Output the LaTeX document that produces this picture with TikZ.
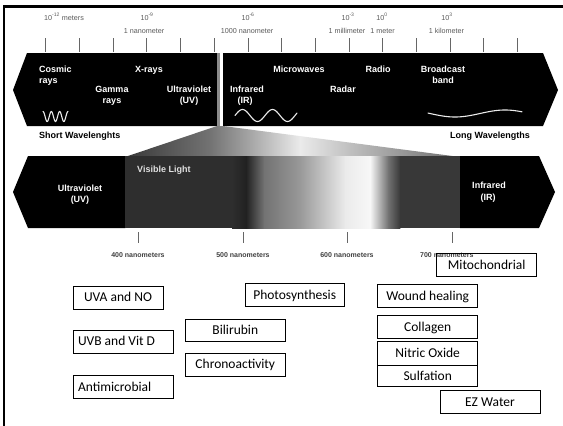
\documentclass[tikz,border=0pt]{standalone}
\usepackage{fontspec}
\setmainfont{Liberation Sans}
\newfontfamily\boxfont{Carlito}
\begin{document}
\begin{tikzpicture}[x=1pt,y=-1pt,
  bandtxt/.style={text=white,font=\fontsize{9}{10}\selectfont\bfseries,inner sep=0pt,anchor=base},
  scaletxt/.style={text=black!65,font=\fontsize{7.2}{8}\selectfont,inner sep=0pt,anchor=base},
  nmtxt/.style={text=black!75,font=\fontsize{7}{8}\selectfont\bfseries,inner sep=0pt,anchor=base},
  wavetxt/.style={text=black,font=\fontsize{9}{10}\selectfont\bfseries,inner sep=0pt,anchor=base west},
  wave/.style={white!92!black,line width=1.1pt,line cap=round},
  tickline/.style={black!60,line width=0.8pt},
  infobox/.style={draw=black,line width=0.8pt,inner xsep=5pt,inner ysep=0pt,outer sep=0pt,
    font=\boxfont\fontsize{13.5}{14}\selectfont,text height=8.7pt,text depth=0pt}
]
\useasboundingbox (0,0) rectangle (563,426);

% frame
\draw[line width=2.5pt] (4,426) -- (4,6.5) -- (563,6.5);

% scale labels
\node[scaletxt] (s1) at (64,20) {10\textsuperscript{-12} meters};
\node[scaletxt] (s2) at (147,20) {10\textsuperscript{-9}};
\node[scaletxt] (s2b) at (144,33) {1 nanometer};
\node[scaletxt] (s3) at (248,20) {10\textsuperscript{-6}};
\node[scaletxt] (s3b) at (247,33) {1000 nanometer};
\node[scaletxt] (s4) at (348,20) {10\textsuperscript{-3}};
\node[scaletxt] (s4b) at (347,33) {1 millimeter};
\node[scaletxt] (s5) at (382,20) {10\textsuperscript{0}};
\node[scaletxt] (s5b) at (382.5,33) {1 meter};
\node[scaletxt] (s6) at (447,20) {10\textsuperscript{3}};
\node[scaletxt] (s6b) at (446.5,33) {1 kilometer};

% ticks
\foreach \i in {0,...,14} \draw[tickline] (45.7+\i*33.7,38) -- ++(0,14);

% top band
\fill[black] (13,90) -- (27,53) -- (217,53) -- (217,126) -- (27,126) -- cycle;
\fill[black!45] (217,53) rectangle (219.5,126);
\fill[black] (223,53) -- (543,53) -- (558,90) -- (543,126) -- (223,126) -- cycle;

\node[bandtxt,anchor=base west] (cos1) at (39,72) {Cosmic};
\node[bandtxt,anchor=base west] (cos2) at (39,83) {rays};
\node[bandtxt] (xr) at (149,72) {X-rays};
\node[bandtxt] (gam1) at (112,92) {Gamma};
\node[bandtxt] (gam2) at (112,103) {rays};
\node[bandtxt] (uv1) at (189,92) {Ultraviolet};
\node[bandtxt] (uv2) at (189,103) {(UV)};
\node[bandtxt] (ir1) at (247,92) {Infrared};
\node[bandtxt] (ir2) at (245,103) {(IR)};
\node[bandtxt] (mw) at (299,72) {Microwaves};
\node[bandtxt] (rad) at (343,92) {Radar};
\node[bandtxt] (rdo) at (378,72) {Radio};
\node[bandtxt] (bc1) at (443,72) {Broadcast};
\node[bandtxt] (bc2) at (443,83) {band};

% waves
\draw[wave] plot[domain=0:1080,samples=90,smooth] ({43+\x/1080*25},{116.5-5*cos(\x)});
\draw[wave] plot[domain=235:297,samples=60,smooth] (\x,{115.5-6*sin((\x-235)*12)});
\draw[wave] plot[domain=428:522,samples=60,smooth] (\x,{113.5-3.5*sin((\x-480)*3.6)});

\node[wavetxt] (sw) at (39,138) {Short Wavelenghts};
\node[wavetxt] (lw) at (450,138) {Long Wavelengths};

% funnel
\begin{scope}
\clip (217,126) -- (223,126) -- (460,157) -- (125,157) -- cycle;
\shade[left color=black!78,right color=black!55] (124,125) rectangle (210.3,158);
\shade[left color=black!55,right color=black!35] (210,125) rectangle (250.3,158);
\shade[left color=black!35,right color=black!8] (250,125) rectangle (300.3,158);
\shade[left color=black!8,right color=black!25] (300,125) rectangle (350.3,158);
\shade[left color=black!25,right color=black!58] (350,125) rectangle (461,158);
\end{scope}

% bottom band
\fill[black] (13,192) -- (28,156) -- (125.3,156) -- (125.3,228) -- (28,228) -- cycle;
\fill[black!82] (125,156) rectangle (232.3,228);
\shade[left color=black!82,right color=black!87] (232,156) rectangle (246.3,228);
\shade[left color=black!87,right color=black!55] (246,156) rectangle (264.3,228);
\shade[left color=black!55,right color=black!40] (264,156) rectangle (300.3,228);
\shade[left color=black!40,right color=black!8] (300,156) rectangle (345.3,228);
\shade[left color=black!8,right color=black!3] (345,156) rectangle (370.3,228);
\shade[left color=black!3,right color=black!55] (370,156) rectangle (388.3,228);
\shade[left color=black!55,right color=black!78] (388,156) rectangle (400.3,228);
\fill[black!78] (400,156) rectangle (460.3,228);
\fill[black] (460,156) -- (539,156) -- (555,192) -- (539,228) -- (460,228) -- cycle;

\node[bandtxt,text=black!12,anchor=base west] (vis) at (137,172) {Visible Light};
\node[bandtxt] (buv1) at (80,191) {Ultraviolet};
\node[bandtxt] (buv2) at (80,202) {(UV)};
\node[bandtxt] (bir1) at (489,188) {Infrared};
\node[bandtxt] (bir2) at (488,200) {(IR)};

% nm ticks and labels
\foreach \xx in {138,243,347,452} \draw[tickline] (\xx,232) -- (\xx,243);
\node[nmtxt] (n4) at (138,257) {400 nanometers};
\node[nmtxt] (n5) at (243,257) {500 nanometers};
\node[nmtxt] (n6) at (347,257) {600 nanometers};
\node[nmtxt,anchor=base west] (n7) at (420,257) {700 nanometers};

% boxes
\node[infobox,minimum width=90pt,minimum height=23pt] (uva) at (118,297.5) {UVA and NO};
\node[infobox,minimum width=100pt,minimum height=23pt] (uvb) at (123,341.5) {\makebox[90pt][l]{UVB and Vit D}};
\node[infobox,minimum width=100pt,minimum height=22.6pt] (anti) at (123,387) {\makebox[90pt][l]{Antimicrobial}};
\node[infobox,minimum width=100.7pt,minimum height=22.7pt] (bili) at (235.3,330.3) {Bilirubin};
\node[infobox,minimum width=100.7pt,minimum height=23pt] (chrono) at (235.3,364.5) {Chronoactivity};
\node[infobox,minimum width=99.3pt,minimum height=23.7pt] (photo) at (294.7,294.8) {Photosynthesis};
\node[infobox,minimum width=100pt,minimum height=22.7pt] (mito) at (486.7,264.7) {Mitochondrial};
\node[infobox,minimum width=100pt,minimum height=23pt] (wound) at (427.7,295.8) {Wound healing};
\node[infobox,minimum width=100pt,minimum height=22.6pt] (coll) at (427.7,327) {Collagen};
\node[infobox,minimum width=100pt,minimum height=23.3pt] (nitric) at (427.7,353.3) {Nitric Oxide};
\node[infobox,minimum width=100pt,minimum height=21.7pt] (sulf) at (427.7,375.8) {Sulfation};
\node[infobox,minimum width=100pt,minimum height=23.3pt] (ez) at (490,401.7) {EZ Water};
\end{tikzpicture}
\end{document}
